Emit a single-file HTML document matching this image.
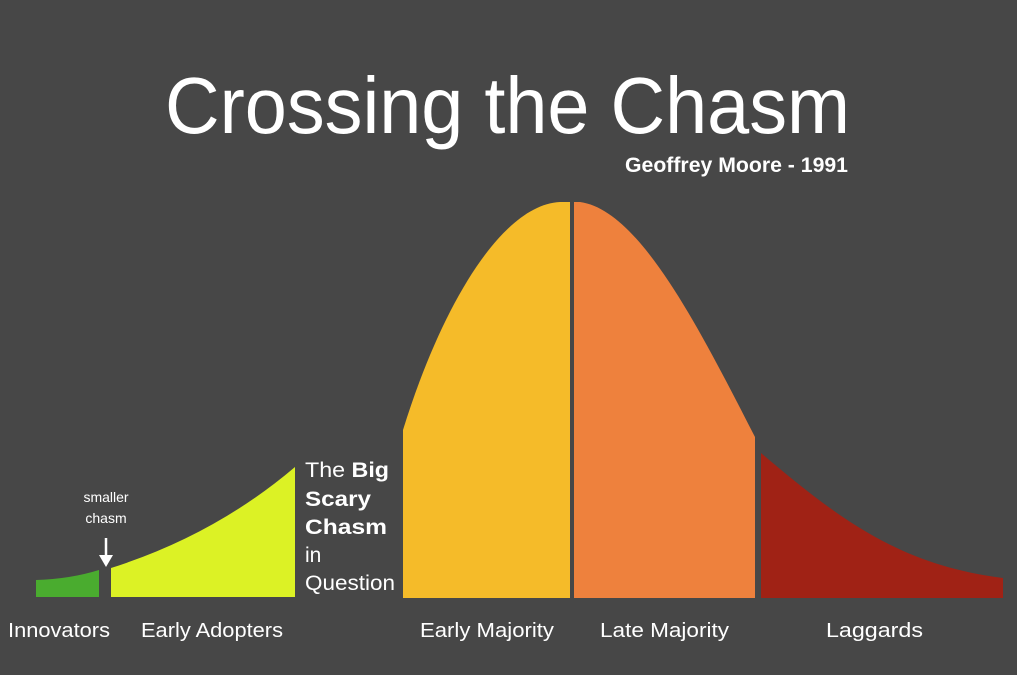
<!DOCTYPE html>
<html><head><meta charset="utf-8"><style>
html,body{margin:0;padding:0;background:#474747;}
svg{display:block;}
text{font-family:"Liberation Sans",sans-serif;fill:#fff;}
</style></head><body>
<svg width="1017" height="675" viewBox="0 0 1017 675" xmlns="http://www.w3.org/2000/svg">
<rect width="1017" height="675" fill="#474747"/>
<text x="165" y="133" font-size="80" textLength="685" lengthAdjust="spacingAndGlyphs">Crossing the Chasm</text>
<text x="625" y="172" font-size="21" font-weight="bold" textLength="223" lengthAdjust="spacingAndGlyphs">Geoffrey Moore - 1991</text>
<path d="M36,580 Q70,579 99,570 L99,597 L36,597 Z" fill="#4aac2f"/>
<path d="M111,568 Q215,535 295,467 L295,597 L111,597 Z" fill="#dcf225"/>
<path d="M403,430 C440,310 500,205 560,202 L570,202 L570,598 L403,598 Z" fill="#f5bb29"/>
<path d="M574,202 L580,202 C640,210 700,330 755,437 L755,598 L574,598 Z" fill="#ee813d"/>
<path d="M761,453 C840,520 900,565 1003,578 L1003,598 L761,598 Z" fill="#a02215"/>
<line x1="106" y1="538" x2="106" y2="558" stroke="#fff" stroke-width="2.5"/>
<path d="M99,555 L106,567 L113,555 Z" fill="#fff"/>
<text x="106" y="502" font-size="14" text-anchor="middle">smaller</text>
<text x="106" y="523" font-size="14" text-anchor="middle">chasm</text>
<text x="305" y="477" font-size="21" textLength="84" lengthAdjust="spacingAndGlyphs">The <tspan font-weight="bold">Big</tspan></text>
<text x="305" y="506" font-size="21" font-weight="bold" textLength="66" lengthAdjust="spacingAndGlyphs">Scary</text>
<text x="305" y="534" font-size="21" font-weight="bold" textLength="82" lengthAdjust="spacingAndGlyphs">Chasm</text>
<text x="305" y="562" font-size="21">in</text>
<text x="305" y="590" font-size="21" textLength="90" lengthAdjust="spacingAndGlyphs">Question</text>
<text x="8" y="637" font-size="20" textLength="102" lengthAdjust="spacingAndGlyphs">Innovators</text>
<text x="141" y="637" font-size="20" textLength="142" lengthAdjust="spacingAndGlyphs">Early Adopters</text>
<text x="420" y="637" font-size="20" textLength="134" lengthAdjust="spacingAndGlyphs">Early Majority</text>
<text x="600" y="637" font-size="20" textLength="129" lengthAdjust="spacingAndGlyphs">Late Majority</text>
<text x="826" y="637" font-size="20" textLength="97" lengthAdjust="spacingAndGlyphs">Laggards</text>
</svg>
</body></html>
